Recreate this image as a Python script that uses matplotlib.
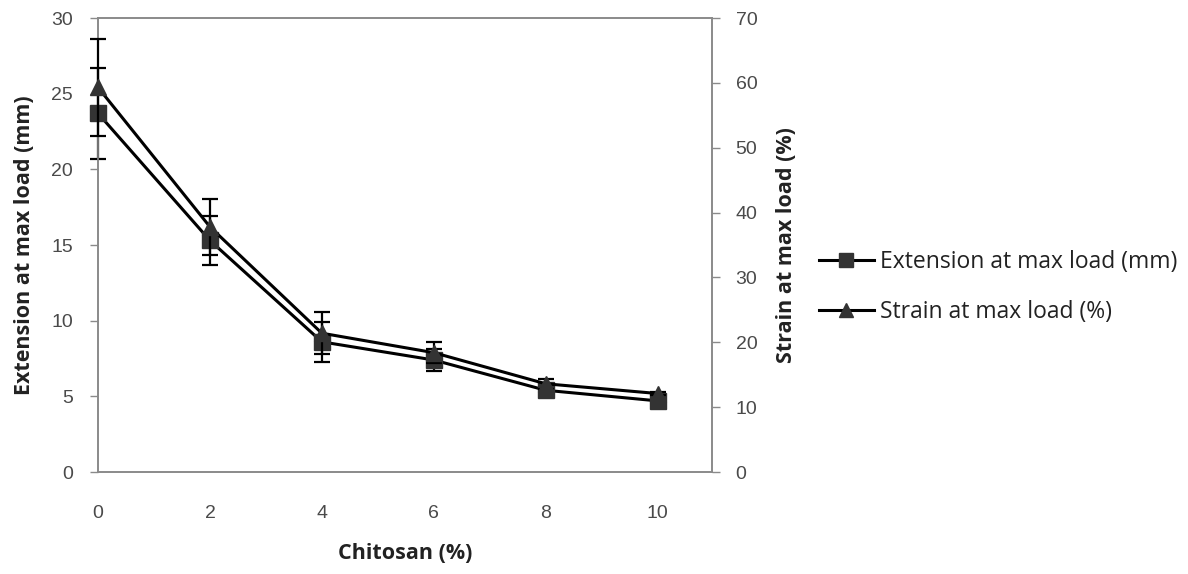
import matplotlib
matplotlib.use("Agg")
import matplotlib.pyplot as plt
from matplotlib.lines import Line2D

chitosan = [0, 2, 4, 6, 8, 10]
extension = [23.7, 15.3, 8.6, 7.4, 5.4, 4.7]
extension_err = [3.0, 1.6, 1.3, 0.7, 0.3, 0.2]
strain = [59.3, 37.8, 21.4, 18.4, 13.6, 12.1]
strain_err = [7.5, 4.3, 3.2, 1.6, 0.8, 0.3]

left_ticks = [0, 5, 10, 15, 20, 25, 30]
right_ticks = [0, 10, 20, 30, 40, 50, 60, 70]
x_ticks = [0, 2, 4, 6, 8, 10]

tick_font = ['Liberation Sans Narrow', 'Liberation Sans', 'DejaVu Sans']
label_font = ['Open Sans', 'DejaVu Sans']
tick_color = '#4a4a4a'
spine_color = '#8a8a8a'
mark_color = '#333333'

fig = plt.figure(figsize=(11.88, 5.74), dpi=100)
ax = fig.add_axes([0.0825, 0.1777, 0.5168, 0.7909])
ax2 = ax.twinx()

ax.errorbar(chitosan, extension, yerr=extension_err, color='black', lw=2.2,
            marker='s', ms=11, mfc=mark_color, mec=mark_color,
            ecolor='black', elinewidth=1.6, capsize=5.5, capthick=1.6, zorder=3,
            clip_on=False)
ax2.errorbar(chitosan, strain, yerr=strain_err, color='black', lw=2.2,
             marker='^', ms=11, mfc=mark_color, mec=mark_color,
             ecolor='black', elinewidth=1.6, capsize=5.5, capthick=1.6, zorder=3,
             clip_on=False)

ax.set_xlim(0, 10.97)
ax.set_ylim(0, 30)
ax2.set_ylim(0, 70)
ax.set_xticks(x_ticks)
ax.set_yticks(left_ticks)
ax2.set_yticks(right_ticks)

for a in (ax, ax2):
    for s in a.spines.values():
        s.set_color(spine_color)
        s.set_linewidth(1.2)

ax.tick_params(axis='x', length=0, pad=24, labelsize=14, labelcolor=tick_color)
ax.tick_params(axis='y', direction='out', length=6, width=1, color=spine_color,
               pad=12, labelsize=14, labelcolor=tick_color)
ax2.tick_params(axis='y', direction='out', length=6, width=1, color=spine_color,
                pad=11, labelsize=14, labelcolor=tick_color)
for lbl in ax.get_xticklabels() + ax.get_yticklabels() + ax2.get_yticklabels():
    lbl.set_family(tick_font)

ax.set_xlabel('Chitosan (%)', family=label_font, fontweight='bold', fontsize=15.5,
              color='#222222', labelpad=15)
ax.set_ylabel('Extension at max load (mm)', family=label_font, fontweight='bold',
              fontsize=15.5, color='#222222', labelpad=12)
ax2.set_ylabel('Strain at max load (%)', family=label_font, fontweight='bold',
               fontsize=15.5, color='#222222', labelpad=13)

handles = [
    Line2D([], [], color='black', lw=2.2, marker='s', ms=9.5, mfc=mark_color, mec=mark_color),
    Line2D([], [], color='black', lw=2.2, marker='^', ms=9.5, mfc=mark_color, mec=mark_color),
]
fig.legend(handles, ['Extension at max load (mm)', 'Strain at max load (%)'],
           loc='center left', bbox_to_anchor=(0.672, 0.50), frameon=False,
           prop={'family': label_font, 'size': 16.5}, handlelength=2.4,
           handletextpad=0.25, labelspacing=1.1, labelcolor='#222222')

fig.savefig('out.png', dpi=100, facecolor='white')
